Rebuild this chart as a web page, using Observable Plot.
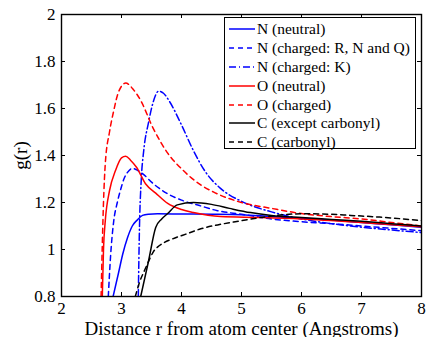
<!DOCTYPE html>
<html>
<head>
<meta charset="utf-8">
<script src="https://cdn.jsdelivr.net/npm/d3@7"></script>
<script src="https://cdn.jsdelivr.net/npm/@observablehq/plot@0.6"></script>
<style>
  body { margin: 0; background: #fff; }
  #wrap { position: relative; width: 426px; height: 337px; font-family: "Liberation Serif", "Times New Roman", serif; }
  #wrap svg text { font-family: "Liberation Serif", "Times New Roman", serif; }
  #legend { position: absolute; left: 224px; top: 17px; width: 192px; height: 132px; border: 1px solid #000; background: #fff; box-sizing: border-box; padding-top: 2px; }
  .row { height: 18.8px; display: flex; align-items: center; font-size: 15.5px; white-space: nowrap; }
  .row svg { margin-left: 4px; margin-right: 2px; flex: none; }
</style>
</head>
<body>
<div id="wrap"></div>
<script>
// ---- data ----
const xTicks = [2, 3, 4, 5, 6, 7, 8];
const yTicks = [0.8, 1, 1.2, 1.4, 1.6, 1.8, 2];

const seriesNames = ["N (neutral)", "N (charged: R, N and Q)", "N (charged: K)", "O (neutral)", "O (charged)", "C (except carbonyl)", "C (carbonyl)"];
const seriesColors = ["#0000ff", "#0000ff", "#0000ff", "#ff0000", "#ff0000", "#000000", "#000000"];
const seriesDash = ["none", "5,4", "7,3,1,3", "none", "5,4", "none", "5,4"];

const nNeutralX = [2.86, 2.95, 3.02, 3.1, 3.18, 3.26, 3.35, 3.45, 3.6, 4.0, 4.5, 5.0, 5.5, 6.0, 6.5, 7.0, 7.5, 8.0];
const nNeutralY = [0.80, 0.90, 0.98, 1.05, 1.10, 1.125, 1.145, 1.15, 1.152, 1.151, 1.15, 1.148, 1.14, 1.133, 1.125, 1.115, 1.105, 1.095];

const nChargedX = [2.78, 2.82, 2.87, 2.93, 2.98, 3.04, 3.1, 3.18, 3.26, 3.35, 3.53, 3.75, 4.0, 4.3, 4.6, 5.0, 5.5, 6.0, 6.5, 7.0, 7.5, 8.0];
const nChargedY = [0.80, 0.98, 1.12, 1.20, 1.25, 1.30, 1.328, 1.345, 1.338, 1.323, 1.28, 1.24, 1.21, 1.187, 1.165, 1.15, 1.13, 1.118, 1.11, 1.10, 1.09, 1.08];

const nKX = [3.28, 3.3, 3.33, 3.37, 3.45, 3.52, 3.62, 3.7, 3.8, 4.0, 4.2, 4.4, 4.65, 5.0, 5.5, 6.0, 6.5, 7.0, 7.5, 8.0];
const nKY = [0.80, 1.10, 1.30, 1.42, 1.54, 1.62, 1.674, 1.665, 1.63, 1.53, 1.42, 1.33, 1.26, 1.205, 1.16, 1.13, 1.11, 1.095, 1.083, 1.072];

const oNeutralX = [2.68, 2.7, 2.73, 2.8, 2.9, 3.0, 3.07, 3.15, 3.25, 3.4, 3.57, 3.77, 4.0, 4.2, 4.65, 5.3, 6.0, 7.0, 8.0];
const oNeutralY = [0.80, 1.00, 1.123, 1.25, 1.336, 1.39, 1.397, 1.38, 1.35, 1.28, 1.24, 1.196, 1.17, 1.157, 1.14, 1.136, 1.13, 1.115, 1.097];

const oChargedX = [2.66, 2.7, 2.73, 2.8, 2.87, 2.95, 3.07, 3.2, 3.32, 3.52, 3.77, 4.03, 4.32, 4.53, 5.0, 5.5, 6.0, 6.5, 7.0, 7.5, 8.0];
const oChargedY = [0.80, 1.20, 1.366, 1.50, 1.59, 1.67, 1.708, 1.68, 1.634, 1.52, 1.41, 1.336, 1.275, 1.245, 1.20, 1.175, 1.153, 1.14, 1.13, 1.115, 1.10];

const cExceptX = [3.32, 3.45, 3.57, 3.67, 3.77, 3.93, 4.2, 4.5, 4.8, 5.15, 5.5, 6.0, 6.5, 7.0, 7.5, 8.0];
const cExceptY = [0.80, 0.95, 1.094, 1.13, 1.153, 1.19, 1.20, 1.192, 1.175, 1.157, 1.145, 1.136, 1.128, 1.12, 1.11, 1.10];

const cCarbX = [3.23, 3.3, 3.4, 3.47, 3.53, 3.6, 3.7, 3.85, 4.1, 4.32, 4.65, 4.87, 5.43, 6.0, 6.5, 6.82, 7.3, 8.0];
const cCarbY = [0.80, 0.86, 0.92, 0.96, 0.99, 1.01, 1.028, 1.045, 1.068, 1.088, 1.107, 1.117, 1.14, 1.152, 1.15, 1.145, 1.138, 1.123];

const seriesX = [nNeutralX, nChargedX, nKX, oNeutralX, oChargedX, cExceptX, cCarbX];
const seriesY = [nNeutralY, nChargedY, nKY, oNeutralY, oChargedY, cExceptY, cCarbY];

// ---- build ----
const W = 426, H = 337;
const mL = 61, mR = 5, mT = 14, mB = 41;
const innerW = W - mL - mR, innerH = H - mT - mB;
const tickLen = 4;
const fmt = d => String(+d.toFixed(1));
const serif = "'Liberation Serif', 'Times New Roman', serif";

const lineMarks = seriesNames.map((name, i) => {
  const data = seriesX[i].map((x, j) => ({x, y: seriesY[i][j]}));
  return Plot.line(data, {
    x: "x", y: "y", stroke: seriesColors[i], strokeWidth: 1.5,
    strokeDasharray: seriesDash[i] === "none" ? null : seriesDash[i],
    curve: "monotone-x", clip: true
  });
});

const chart = Plot.plot({
  width: W, height: H,
  marginLeft: mL, marginRight: mR, marginTop: mT, marginBottom: mB,
  style: {fontFamily: serif, fontSize: "17px", color: "#000", background: "#fff", overflow: "visible"},
  x: {domain: [2, 8]},
  y: {domain: [0.8, 2]},
  marks: [
    ...lineMarks,
    // inward ticks on all four sides
    Plot.ruleX(xTicks, {x: d => d, insetTop: innerH - tickLen, stroke: "#000", strokeWidth: 1}),
    Plot.ruleX(xTicks, {x: d => d, insetBottom: innerH - tickLen, stroke: "#000", strokeWidth: 1}),
    Plot.ruleY(yTicks, {y: d => d, insetRight: innerW - tickLen, stroke: "#000", strokeWidth: 1}),
    Plot.ruleY(yTicks, {y: d => d, insetLeft: innerW - tickLen, stroke: "#000", strokeWidth: 1}),
    Plot.frame({stroke: "#000", strokeWidth: 1.4}),
    Plot.axisX(xTicks, {tickSize: 0, tickPadding: 5, tickFormat: fmt, label: null, fontSize: 17}),
    Plot.axisY(yTicks, {tickSize: 0, tickPadding: 6, tickFormat: fmt, label: null, fontSize: 17}),
    Plot.axisX({ticks: [], tickSize: 0, label: "Distance r from atom center (Angstroms)", labelAnchor: "center", labelArrow: "none", labelOffset: 38, fontSize: 19}),
    Plot.axisY({ticks: [], tickSize: 0, label: "g(r)", labelAnchor: "center", labelArrow: "none", labelOffset: 48, fontSize: 19})
  ]
});

const wrap = document.getElementById("wrap");
wrap.appendChild(chart);

// legend inside the plot, top right
const legend = document.createElement("div");
legend.id = "legend";
seriesNames.forEach((name, i) => {
  const row = document.createElement("div");
  row.className = "row";
  const dash = seriesDash[i] === "none" ? "" : `stroke-dasharray="${seriesDash[i]}"`;
  row.innerHTML = `<svg width="26" height="6"><line x1="0" y1="3" x2="26" y2="3" stroke="${seriesColors[i]}" stroke-width="1.5" ${dash}/></svg><span>${name}</span>`;
  legend.appendChild(row);
});
wrap.appendChild(legend);
</script>
</body>
</html>
